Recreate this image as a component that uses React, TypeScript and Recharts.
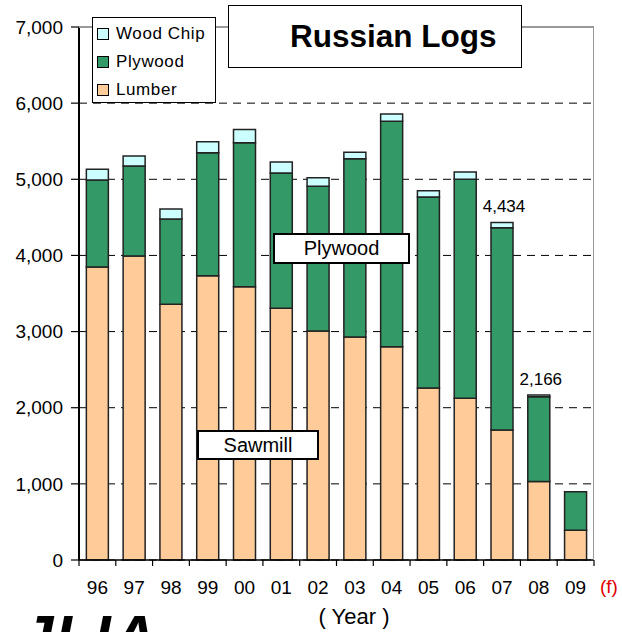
import React from 'react';
import { BarChart, Bar, XAxis, YAxis, CartesianGrid, LabelList } from 'recharts';

const years = ['96', '97', '98', '99', '00', '01', '02', '03', '04', '05', '06', '07', '08', '09'];
const lumber = [3848, 3993, 3358, 3734, 3590, 3306, 3008, 2929, 2800, 2260, 2125, 1707, 1030, 390];
const plywood = [1142, 1182, 1120, 1615, 1890, 1777, 1900, 2342, 2962, 2508, 2875, 2657, 1115, 507];
const woodChip = [143, 131, 132, 145, 175, 144, 113, 84, 96, 80, 96, 70, 21, 0];
const labeledYears = ['07', '08'];
const yTicks = [0, 1000, 2000, 3000, 4000, 5000, 6000, 7000];

const seriesNames = { woodChip: 'Wood Chip', plywood: 'Plywood', lumber: 'Lumber' };
const colors = { woodChip: '#CCFFFF', plywood: '#339966', lumber: '#FFCC99' };

const data = years.map((year, i) => ({
  year,
  lumber: lumber[i],
  plywood: plywood[i],
  woodChip: woodChip[i],
  total: labeledYears.includes(year) ? lumber[i] + plywood[i] + woodChip[i] : null,
}));

const FONT = '"Liberation Sans", Arial, sans-serif';

const fmt = (v: number) => v.toLocaleString('en-US');

const XTick = (props: any) => {
  const { x, y, payload, index } = props;
  const half = payload && typeof payload.offset === 'number' && payload.offset > 0 ? payload.offset : 18.4;
  return (
    <g>
      <line x1={x - half} x2={x - half} y1={y} y2={y + 6} stroke="#000" strokeWidth={1.2} />
      {index === years.length - 1 && (
        <line x1={x + half} x2={x + half} y1={y} y2={y + 6} stroke="#000" strokeWidth={1.2} />
      )}
      <text x={x} y={y + 34} textAnchor="middle" fontSize={19} fontFamily={FONT} fill="#000">
        {payload.value}
      </text>
    </g>
  );
};

const TotalLabel = (props: any) => {
  const { x, y, width, value } = props;
  if (value === null || value === undefined) return null;
  return (
    <text x={x + width / 2 + 2} y={y - 10} textAnchor="middle" fontSize={17} fontFamily={FONT} fill="#000">
      {fmt(value)}
    </text>
  );
};

const boxLabel = (text: string, left: number, top: number, width: number, height: number, fontSize: number, border: number) => (
  <div
    style={{
      position: 'absolute',
      left,
      top,
      width,
      height,
      boxSizing: 'border-box',
      border: `${border}px solid #000`,
      background: '#fff',
      display: 'flex',
      alignItems: 'center',
      justifyContent: 'center',
      fontFamily: FONT,
      fontSize,
      color: '#000',
      pointerEvents: 'none',
    }}
  >
    {text}
  </div>
);

const legendKeys: Array<'woodChip' | 'plywood' | 'lumber'> = ['woodChip', 'plywood', 'lumber'];

export default function App() {
  return (
    <div style={{ position: 'absolute', left: 0, top: 0, width: 622, height: 632, background: '#fff', overflow: 'hidden' }}>
      <BarChart
        width={622}
        height={632}
        data={data}
        margin={{ top: 27, right: 28, bottom: 42, left: 0 }}
        barCategoryGap="20%"
      >
        <CartesianGrid vertical={false} stroke="#000" strokeDasharray="8 6" strokeWidth={1} />
        <XAxis
          dataKey="year"
          height={30}
          axisLine={{ stroke: '#000', strokeWidth: 1.5 }}
          tickLine={false}
          tickSize={0}
          tickMargin={0}
          tick={<XTick />}
          interval={0}
        />
        <YAxis
          width={79}
          domain={[0, 7000]}
          ticks={yTicks}
          interval={0}
          tickFormatter={fmt}
          axisLine={{ stroke: '#000', strokeWidth: 2 }}
          tickLine={{ stroke: '#000', strokeWidth: 1.2 }}
          tickSize={8}
          tickMargin={8}
          tick={{ fill: '#000', fontSize: 19, fontFamily: FONT }}
        />
        <Bar dataKey="lumber" name={seriesNames.lumber} stackId="a" fill={colors.lumber} stroke="#222" strokeWidth={1.5} isAnimationActive={false} />
        <Bar dataKey="plywood" name={seriesNames.plywood} stackId="a" fill={colors.plywood} stroke="#222" strokeWidth={1.5} isAnimationActive={false} />
        <Bar dataKey="woodChip" name={seriesNames.woodChip} stackId="a" fill={colors.woodChip} stroke="#222" strokeWidth={1.5} isAnimationActive={false}>
          <LabelList dataKey="total" content={<TotalLabel />} />
        </Bar>
      </BarChart>

      {/* plot frame (top and right) */}
      <div
        style={{
          position: 'absolute',
          left: 79,
          top: 26,
          width: 515,
          height: 534,
          boxSizing: 'border-box',
          borderTop: '2px solid #999',
          borderRight: '1.5px solid #999',
          pointerEvents: 'none',
        }}
      />

      {/* legend */}
      <div
        style={{
          position: 'absolute',
          left: 92,
          top: 17,
          width: 124,
          height: 86,
          boxSizing: 'border-box',
          border: '1px solid #000',
          background: '#fff',
          fontFamily: FONT,
          fontSize: 17,
          color: '#000',
        }}
      >
        {legendKeys.map((k, i) => (
          <div
            key={k}
            style={{ position: 'absolute', left: 4, top: 5 + i * 28, height: 22, display: 'flex', alignItems: 'center', whiteSpace: 'nowrap' }}
          >
            <span
              style={{
                display: 'inline-block',
                width: 12,
                height: 12,
                boxSizing: 'border-box',
                border: '1px solid #000',
                background: colors[k],
                marginRight: 7,
              }}
            />
            <span style={{ letterSpacing: 0.6 }}>{seriesNames[k]}</span>
          </div>
        ))}
      </div>

      {/* title */}
      <div
        style={{
          position: 'absolute',
          left: 228,
          top: 5,
          width: 294,
          height: 63,
          boxSizing: 'border-box',
          border: '1.5px solid #000',
          background: '#fff',
          fontFamily: FONT,
          fontSize: 31.5,
          fontWeight: 'bold',
          color: '#000',
          display: 'flex',
          alignItems: 'center',
          paddingLeft: 61,
          whiteSpace: 'nowrap',
        }}
      >
        Russian Logs
      </div>

      {boxLabel('Plywood', 273, 233, 137, 31, 20, 2)}
      {boxLabel('Sawmill', 197, 430, 122, 30, 20, 2)}

      <div style={{ position: 'absolute', left: 600, top: 576, fontFamily: FONT, fontSize: 19, color: '#e00000' }}>(f)</div>
      <div style={{ position: 'absolute', left: 0, width: 708, top: 604, textAlign: 'center', fontFamily: FONT, fontSize: 22, color: '#000', whiteSpace: 'pre' }}>
        {'( Year )'}
      </div>
      <div
        style={{
          position: 'absolute',
          left: 20,
          top: 607,
          fontFamily: FONT,
          fontSize: 60,
          fontWeight: 'bold',
          fontStyle: 'italic',
          color: '#000',
          lineHeight: 1,
          letterSpacing: 2,
        }}
      >
        JLIA
      </div>
    </div>
  );
}
